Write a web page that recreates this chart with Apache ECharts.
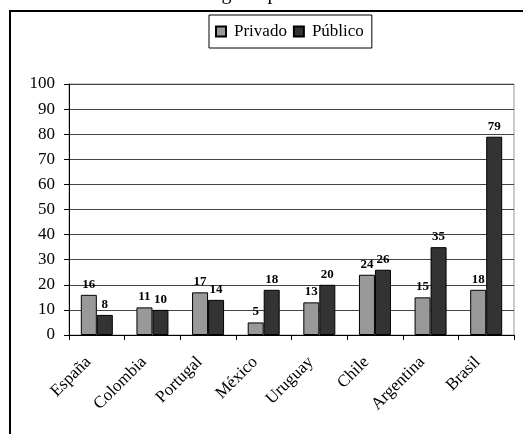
<!DOCTYPE html>
<html><head><meta charset="utf-8">
<script src="https://cdn.jsdelivr.net/npm/echarts@6/dist/echarts.min.js"></script>
<style>html,body{margin:0;padding:0;background:#fff}#c{width:523px;height:434px}</style>
</head><body><div id="c"></div>
<script>
const categories = ['España','Colombia','Portugal','México','Uruguay','Chile','Argentina','Brasil'];
const privado = [16, 11, 17, 5, 13, 24, 15, 18];
const publico = [8, 10, 14, 18, 20, 26, 35, 79];
const seriesNames = ['Privado','Público'];
const titleText = 'Matrícula según tipo de institución';

const font = '"Liberation Serif", "Times New Roman", serif';
const chart = echarts.init(document.getElementById('c'), null, {renderer:'canvas'});
const lbl = {show:true, position:'top', distance:4, fontFamily:font, fontWeight:'bold', fontSize:13, color:'#000'};
chart.setOption({
  animation:false,
  backgroundColor:'#fff',
  textStyle:{fontFamily:font},
  graphic:[
    {type:'rect', shape:{x:10, y:11, width:600, height:500}, style:{fill:'none', stroke:'#000', lineWidth:2}, z:-1},
    {type:'text', left:'center', top:-16, style:{text:titleText, font:'20px ' + font, fill:'#000'}}
  ],
  legend:{
    data:seriesNames, top:15, left:209,
    itemWidth:10, itemHeight:10, itemGap:6,
    padding:[8,8,8,6],
    borderColor:'#000', borderWidth:1,
    textStyle:{fontFamily:font, fontSize:17, color:'#000', padding:[0,0,0,3]},
    icon:'rect'
  },
  grid:{left:69, right:9, top:84, bottom:99, show:true, borderColor:'#999', borderWidth:1},
  xAxis:{
    type:'category', data:categories,
    axisLine:{lineStyle:{color:'#000', width:1}},
    axisTick:{show:true, length:5, lineStyle:{color:'#000'}},
    axisLabel:{rotate:45, fontFamily:font, fontSize:17, color:'#000', margin:16, padding:[0,12,0,0]}
  },
  yAxis:{
    type:'value', min:0, max:100, interval:10,
    axisLine:{show:true, lineStyle:{color:'#000'}},
    axisTick:{show:true, inside:false, length:5, lineStyle:{color:'#000'}},
    axisLabel:{fontFamily:font, fontSize:17, color:'#000', margin:14},
    splitLine:{show:true, lineStyle:{color:'#444', width:1}}
  },
  series:[
    {name:seriesNames[0], type:'bar', data:privado, barWidth:16, barGap:'0%',
     itemStyle:{color:'#999999', borderColor:'#000', borderWidth:1}, label:lbl},
    {name:seriesNames[1], type:'bar', data:publico, barWidth:16, barGap:'0%',
     itemStyle:{color:'#333333', borderColor:'#000', borderWidth:1}, label:lbl}
  ]
});
</script></body></html>
